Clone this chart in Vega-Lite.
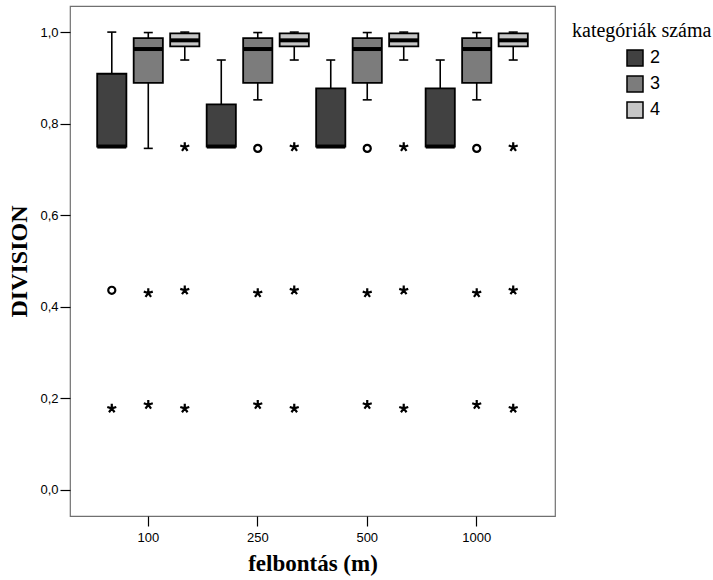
{
  "$schema": "https://vega.github.io/schema/vega-lite/v6.json",
  "width": 485,
  "height": 510,
  "autosize": {"type": "none"},
  "padding": {"left": 70, "top": 6, "right": 158, "bottom": 64},
  "background": "white",
  "config": {
    "view": {"stroke": "#707070", "strokeWidth": 1.2},
    "axis": {
      "domain": false,
      "grid": false,
      "tickColor": "black",
      "tickWidth": 1.2,
      "tickSize": 10,
      "labelFont": "Liberation Sans",
      "labelFontSize": 13,
      "labelColor": "black",
      "titleFont": "Liberation Serif",
      "titleFontWeight": "bold",
      "titleColor": "black"
    }
  },
  "datasets": {
    "boxes": [
      {"res": "100", "cat": "2", "lower": 0.75, "q1": 0.75, "median": 0.75, "q3": 0.909, "upper": 1.0},
      {"res": "100", "cat": "3", "lower": 0.746, "q1": 0.889, "median": 0.963, "q3": 0.987, "upper": 0.999},
      {"res": "100", "cat": "4", "lower": 0.939, "q1": 0.969, "median": 0.982, "q3": 0.997, "upper": 1.0},
      {"res": "250", "cat": "2", "lower": 0.75, "q1": 0.75, "median": 0.75, "q3": 0.842, "upper": 0.939},
      {"res": "250", "cat": "3", "lower": 0.852, "q1": 0.889, "median": 0.963, "q3": 0.987, "upper": 0.999},
      {"res": "250", "cat": "4", "lower": 0.939, "q1": 0.969, "median": 0.982, "q3": 0.997, "upper": 1.0},
      {"res": "500", "cat": "2", "lower": 0.75, "q1": 0.75, "median": 0.75, "q3": 0.877, "upper": 0.939},
      {"res": "500", "cat": "3", "lower": 0.852, "q1": 0.889, "median": 0.963, "q3": 0.987, "upper": 0.999},
      {"res": "500", "cat": "4", "lower": 0.939, "q1": 0.969, "median": 0.982, "q3": 0.997, "upper": 1.0},
      {"res": "1000", "cat": "2", "lower": 0.75, "q1": 0.75, "median": 0.75, "q3": 0.877, "upper": 0.939},
      {"res": "1000", "cat": "3", "lower": 0.852, "q1": 0.889, "median": 0.963, "q3": 0.987, "upper": 0.999},
      {"res": "1000", "cat": "4", "lower": 0.939, "q1": 0.969, "median": 0.982, "q3": 0.997, "upper": 1.0}
    ],
    "outl": [
      {"res": "100", "cat": "2", "value": 0.436, "type": "outlier"},
      {"res": "100", "cat": "2", "value": 0.178, "type": "extreme"},
      {"res": "100", "cat": "3", "value": 0.43, "type": "extreme"},
      {"res": "100", "cat": "3", "value": 0.186, "type": "extreme"},
      {"res": "100", "cat": "4", "value": 0.749, "type": "extreme"},
      {"res": "100", "cat": "4", "value": 0.436, "type": "extreme"},
      {"res": "100", "cat": "4", "value": 0.178, "type": "extreme"},
      {"res": "250", "cat": "3", "value": 0.746, "type": "outlier"},
      {"res": "250", "cat": "3", "value": 0.43, "type": "extreme"},
      {"res": "250", "cat": "3", "value": 0.186, "type": "extreme"},
      {"res": "250", "cat": "4", "value": 0.749, "type": "extreme"},
      {"res": "250", "cat": "4", "value": 0.436, "type": "extreme"},
      {"res": "250", "cat": "4", "value": 0.178, "type": "extreme"},
      {"res": "500", "cat": "3", "value": 0.746, "type": "outlier"},
      {"res": "500", "cat": "3", "value": 0.43, "type": "extreme"},
      {"res": "500", "cat": "3", "value": 0.186, "type": "extreme"},
      {"res": "500", "cat": "4", "value": 0.749, "type": "extreme"},
      {"res": "500", "cat": "4", "value": 0.436, "type": "extreme"},
      {"res": "500", "cat": "4", "value": 0.178, "type": "extreme"},
      {"res": "1000", "cat": "3", "value": 0.746, "type": "outlier"},
      {"res": "1000", "cat": "3", "value": 0.43, "type": "extreme"},
      {"res": "1000", "cat": "3", "value": 0.186, "type": "extreme"},
      {"res": "1000", "cat": "4", "value": 0.749, "type": "extreme"},
      {"res": "1000", "cat": "4", "value": 0.436, "type": "extreme"},
      {"res": "1000", "cat": "4", "value": 0.178, "type": "extreme"}
    ]
  },
  "encoding": {
    "x": {
      "field": "res",
      "type": "ordinal",
      "sort": ["100", "250", "500", "1000"],
      "scale": {"paddingInner": 0, "paddingOuter": 0.215},
      "axis": {"labelAngle": 0, "labelPadding": 5, "title": "felbontás (m)", "titleFontSize": 23, "titlePadding": 8}
    },
    "xOffset": {
      "field": "cat",
      "type": "nominal",
      "sort": ["2", "3", "4"],
      "scale": {"paddingInner": 0.2, "paddingOuter": 0.1}
    }
  },
  "layer": [
    {
      "data": {"name": "boxes"},
      "mark": {"type": "rule", "stroke": "black", "strokeWidth": 1.6},
      "encoding": {
        "y": {
          "field": "lower",
          "type": "quantitative",
          "title": "DIVISION",
          "scale": {"domain": [-0.057, 1.057], "nice": false, "zero": false},
          "axis": {
            "values": [0, 0.2, 0.4, 0.6, 0.8, 1.0],
            "labelExpr": "replace(format(datum.value, '.1f'), '.', ',')",
            "labelPadding": 2,
            "titleFontSize": 24,
            "titlePadding": 8
          }
        },
        "y2": {"field": "upper"}
      }
    },
    {
      "data": {"name": "boxes"},
      "mark": {"type": "bar", "stroke": "black", "strokeWidth": 1.8, "opacity": 1},
      "encoding": {
        "y": {"field": "q1", "type": "quantitative", "title": "DIVISION", "scale": {"domain": [-0.057, 1.057], "nice": false, "zero": false}},
        "y2": {"field": "q3"},
        "color": {
          "field": "cat",
          "type": "nominal",
          "sort": ["2", "3", "4"],
          "scale": {"domain": ["2", "3", "4"], "range": ["#414141", "#7c7c7c", "#c6c6c6"]},
          "legend": {
            "title": "kategóriák száma",
            "orient": "none",
            "legendX": 502,
            "legendY": 15,
            "padding": 0,
            "titleFont": "Liberation Serif",
            "titleFontSize": 20,
            "titleFontWeight": "normal",
            "titleColor": "black",
            "titlePadding": 8,
            "labelFont": "Liberation Sans",
            "labelFontSize": 18,
            "labelColor": "black",
            "symbolType": "square",
            "symbolSize": 256,
            "symbolStrokeColor": "black",
            "symbolStrokeWidth": 1.5,
            "symbolOpacity": 1,
            "rowPadding": 4,
            "symbolOffset": 54,
            "labelOffset": 6
          }
        }
      }
    },
    {
      "data": {"name": "boxes"},
      "mark": {"type": "tick", "color": "black", "size": 29, "thickness": 4, "opacity": 1},
      "encoding": {
        "y": {"field": "median", "type": "quantitative", "title": "DIVISION", "scale": {"domain": [-0.057, 1.057], "nice": false, "zero": false}}
      }
    },
    {
      "data": {"name": "boxes"},
      "mark": {"type": "tick", "color": "black", "size": 9, "thickness": 1.6, "opacity": 1},
      "encoding": {
        "y": {"field": "lower", "type": "quantitative", "title": "DIVISION", "scale": {"domain": [-0.057, 1.057], "nice": false, "zero": false}}
      }
    },
    {
      "data": {"name": "boxes"},
      "mark": {"type": "tick", "color": "black", "size": 9, "thickness": 1.6, "opacity": 1},
      "encoding": {
        "y": {"field": "upper", "type": "quantitative", "title": "DIVISION", "scale": {"domain": [-0.057, 1.057], "nice": false, "zero": false}}
      }
    },
    {
      "data": {"name": "outl"},
      "mark": {"type": "point", "filled": false, "stroke": "black", "strokeWidth": 2.2, "opacity": 1},
      "encoding": {
        "y": {"field": "value", "type": "quantitative", "title": "DIVISION", "scale": {"domain": [-0.057, 1.057], "nice": false, "zero": false}},
        "shape": {
          "field": "type",
          "type": "nominal",
          "scale": {"domain": ["outlier", "extreme"], "range": ["circle", "M0,0L0,-1M0,0L0.951,-0.309M0,0L0.588,0.809M0,0L-0.588,0.809M0,0L-0.951,-0.309"]},
          "legend": null
        },
        "size": {
          "field": "type",
          "type": "nominal",
          "scale": {"domain": ["outlier", "extreme"], "range": [50, 90]},
          "legend": null
        }
      }
    }
  ]
}
